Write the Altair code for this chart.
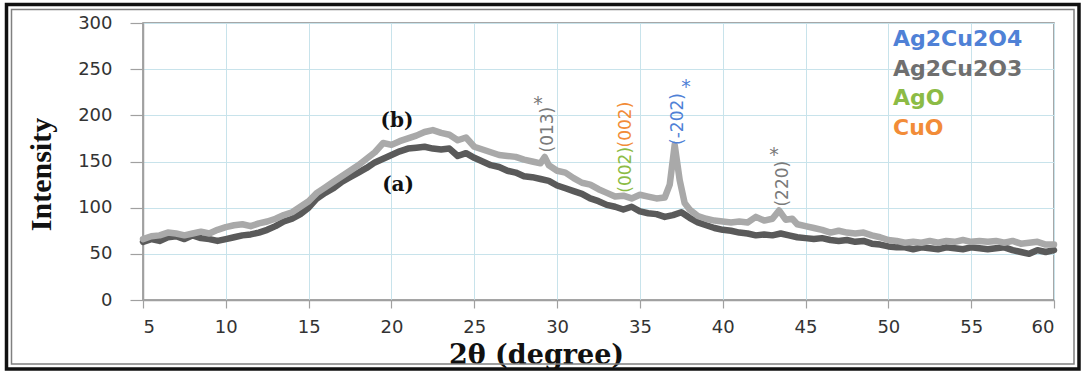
import altair as alt
import pandas as pd

# ---- data ----
deg_a = [5 + 0.5 * i for i in range(111)]
int_a = [63, 66, 64, 68, 69, 66, 70, 67, 66, 64,
         66, 68, 70, 71, 73, 76, 80, 85, 88, 93,
         100, 110, 116, 121, 128, 133, 138, 143, 149, 153,
         157, 161, 164, 165, 166, 164, 163, 164, 156, 159,
         154, 150, 146, 144, 140, 138, 134, 133, 131, 129,
         124, 121, 118, 115, 110, 107, 103, 101, 98, 101,
         96, 94, 93, 90, 92, 95, 89, 84, 81, 78,
         76, 75, 73, 72, 70, 71, 70, 72, 70, 68,
         67, 66, 67, 65, 64, 65, 63, 64, 61, 60,
         58, 57, 57, 55, 57, 56, 55, 57, 56, 55,
         57, 56, 55, 56, 57, 54, 52, 50, 54, 52, 54]

deg_b = [5, 5.5, 6, 6.5, 7, 7.5, 8, 8.5, 9, 9.5,
         10, 10.5, 11, 11.5, 12, 12.5, 13, 13.5, 14, 14.5,
         15, 15.5, 16, 16.5, 17, 17.5, 18, 18.5, 19, 19.5,
         20, 20.5, 21, 21.5, 22, 22.5, 23, 23.5, 24, 24.5,
         25, 25.5, 26, 26.5, 27, 27.5, 28, 28.5, 29, 29.25, 29.5,
         30, 30.5, 31, 31.5, 32, 32.5, 33, 33.5, 34, 34.5,
         35, 35.5, 36, 36.5, 36.8, 37.1, 37.4, 37.7, 38, 38.5,
         39, 39.5, 40, 40.5, 41, 41.5, 42, 42.5, 43, 43.4, 43.8, 44.2,
         44.5, 45, 45.5, 46, 46.5, 47, 47.5, 48, 48.5, 49, 49.5,
         50, 50.5, 51, 51.5, 52, 52.5, 53, 53.5, 54, 54.5,
         55, 55.5, 56, 56.5, 57, 57.5, 58, 58.5, 59, 59.5, 60]
int_b = [66, 69, 70, 73, 72, 70, 72, 74, 72, 76,
         79, 81, 82, 80, 83, 85, 88, 92, 95, 101,
         107, 116, 122, 128, 134, 140, 146, 153, 160, 170,
         168, 172, 175, 178, 182, 184, 181, 179, 173, 176,
         166, 163, 160, 157, 156, 155, 152, 150, 148, 155, 146,
         140, 138, 132, 127, 125, 120, 116, 112, 113, 110,
         114, 112, 110, 111, 125, 168, 130, 105, 98, 91,
         88, 86, 85, 84, 85, 84, 90, 86, 88, 97, 87, 88,
         82, 80, 78, 76, 73, 75, 73, 72, 73, 70, 68,
         65, 64, 62, 63, 62, 64, 62, 64, 63, 65,
         63, 64, 63, 64, 62, 64, 61, 62, 63, 60, 60]

# peak annotations (rotated)
ann_text = ["(013)", "(002)", "(002)", "(-202)", "(220)"]
ann_deg = [29.45, 34.16, 34.16, 37.30, 43.64]
ann_val = [184.5, 141, 190, 196, 126]
ann_color = ["#7a7a7a", "#8cbb45", "#f28c38", "#4f81d6", "#7a7a7a"]

star_deg = [28.85, 37.78, 43.10]
star_val = [212, 231, 157]
star_color = ["#7a7a7a", "#4f81d6", "#7a7a7a"]

# phase legend (text)
leg_text = ["Ag2Cu2O4", "Ag2Cu2O3", "AgO", "CuO"]
leg_val = [275, 243, 211, 179]
leg_color = ["#4f81d6", "#6f6f6f", "#8cbb45", "#f28c38"]
leg_deg = 50.28

# series labels
lab_text = ["(b)", "(a)"]
lab_deg = [20.33, 20.40]
lab_val = [194, 125]

x_ticks = list(range(5, 61, 5))
y_ticks = list(range(0, 301, 50))

df = pd.DataFrame(
    {"deg": deg_a + deg_b,
     "intensity": int_a + int_b,
     "series": ["(a)"] * len(deg_a) + ["(b)"] * len(deg_b)}
)
ann_df = pd.DataFrame({"deg": ann_deg, "v": ann_val, "t": ann_text, "c": ann_color})
star_df = pd.DataFrame({"deg": star_deg, "v": star_val, "c": star_color})
leg_df = pd.DataFrame({"deg": [leg_deg] * 4, "v": leg_val, "t": leg_text, "c": leg_color})
lab_df = pd.DataFrame({"deg": lab_deg, "v": lab_val, "t": lab_text})

xscale = alt.Scale(domain=[5, 60], nice=False, zero=False)
yscale = alt.Scale(domain=[0, 300], nice=False)

lines = alt.Chart(df).mark_line(strokeWidth=6.5, strokeJoin="round", strokeCap="round").encode(
    x=alt.X("deg:Q", scale=xscale,
            axis=alt.Axis(values=x_ticks, title="2θ (degree)", tickSize=8, labelPadding=10,
                          titleX=393, titleY=55, titleAlign="center", titleBaseline="middle",
                          titleFont="DejaVu Serif", titleFontSize=27,
                          titleFontWeight="bold", titleColor="#111111")),
    y=alt.Y("intensity:Q", scale=yscale,
            axis=alt.Axis(values=y_ticks, title="Intensity", tickSize=13, labelPadding=18,
                          titleX=-102, titleY=151, titleAngle=-90, titleAlign="center",
                          titleBaseline="middle", titleFont="Liberation Serif",
                          titleFontSize=30, titleFontWeight="bold", titleColor="#111111")),
    color=alt.Color("series:N", scale=alt.Scale(domain=["(a)", "(b)"], range=["#5a5a5a", "#a9a9a9"]),
                    legend=None),
    order=alt.Order("deg:Q"),
)

ann = alt.Chart(ann_df).mark_text(angle=270, font="DejaVu Sans", fontSize=17,
                                  align="center", baseline="middle").encode(
    x=alt.X("deg:Q", scale=xscale), y=alt.Y("v:Q", scale=yscale),
    text="t:N", color=alt.Color("c:N", scale=None))

stars = alt.Chart(star_df).mark_text(font="DejaVu Sans", fontSize=19, align="center",
                                     baseline="middle", text="*").encode(
    x=alt.X("deg:Q", scale=xscale), y=alt.Y("v:Q", scale=yscale),
    color=alt.Color("c:N", scale=None))

leg = alt.Chart(leg_df).mark_text(font="DejaVu Sans", fontSize=22, fontWeight="bold",
                                  align="left", baseline="alphabetic").encode(
    x=alt.X("deg:Q", scale=xscale), y=alt.Y("v:Q", scale=yscale),
    text="t:N", color=alt.Color("c:N", scale=None))

labs = alt.Chart(lab_df).mark_text(font="DejaVu Serif", fontSize=20, fontWeight="bold",
                                   align="center", baseline="middle", color="#111111").encode(
    x=alt.X("deg:Q", scale=xscale), y=alt.Y("v:Q", scale=yscale), text="t:N")

frame_outer = alt.Chart(alt.Data(values=[{}])).mark_rect(
    filled=False, stroke="#111111", strokeWidth=3.5).encode(
    x=alt.value(-136.5), x2=alt.value(936), y=alt.value(-18.5), y2=alt.value(346))
frame_inner = alt.Chart(alt.Data(values=[{}])).mark_rect(
    filled=False, stroke="#808080", strokeWidth=1.5).encode(
    x=alt.value(-131.5), x2=alt.value(931), y=alt.value(-13.5), y2=alt.value(341))

chart = alt.layer(lines, ann, stars, leg, labs, frame_outer, frame_inner).properties(
    width=911, height=277,
    autosize=alt.AutoSizeParams(type="none"),
    padding={"left": 143, "top": 23, "right": 30, "bottom": 74},
    background="white",
).configure_view(
    stroke="#8a8a8a", strokeWidth=1.5
).configure_axis(
    gridColor="#c8e3eb", gridWidth=1, domainColor="#a0a0a0", domainWidth=1.5,
    tickColor="#a0a0a0", tickWidth=1.2,
    labelFont="DejaVu Sans", labelFontSize=18, labelColor="#333333",
)

chart.save("out.html", embed_options={"renderer": "svg", "actions": False})
